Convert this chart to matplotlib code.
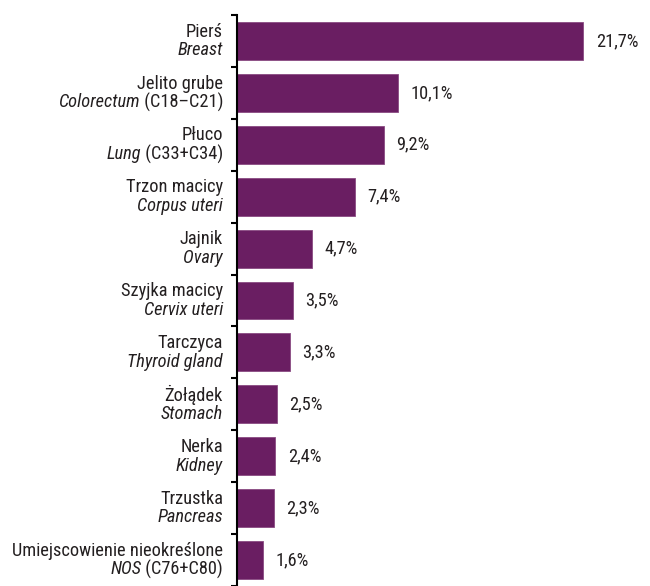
import numpy as np
import matplotlib.pyplot as plt

# dane
polish = ['Pierś', 'Jelito grube', 'Płuco', 'Trzon macicy', 'Jajnik', 'Szyjka macicy',
          'Tarczyca', 'Żołądek', 'Nerka', 'Trzustka', 'Umiejscowienie nieokreślone']
english = ['Breast', 'Colorectum', 'Lung', 'Corpus uteri', 'Ovary', 'Cervix uteri',
           'Thyroid gland', 'Stomach', 'Kidney', 'Pancreas', 'NOS']
codes = ['', ' (C18–C21)', ' (C33+C34)', '', '', '', '', '', '', '', ' (C76+C80)']
values = [21.7, 10.1, 9.2, 7.4, 4.7, 3.5, 3.3, 2.5, 2.4, 2.3, 1.6]

plt.rcParams['font.family'] = ['Roboto Condensed', 'DejaVu Sans']
color = '#6a1e62'
fs = 13.2

fig = plt.figure(figsize=(6.5, 5.86), dpi=100)
ax = fig.add_axes([237 / 650, 0, 1 - 237 / 650, 1 - 15 / 586])
y = np.arange(len(values))
ax.barh(y, values, height=0.73, color=color, edgecolor='#8a4a82', linewidth=0.6)
ax.set_ylim(len(values) - 0.5, -0.5)
ax.set_xlim(0, (650 - 237) / 15.94)

for s in ['top', 'right', 'bottom']:
    ax.spines[s].set_visible(False)
ax.spines['left'].set_linewidth(1.5)
ax.set_xticks([])
ax.set_yticks(np.arange(-0.5, len(values), 1))
ax.set_yticklabels([])
ax.tick_params(axis='y', length=4, width=1.5, direction='out')

for i, v in enumerate(values):
    ax.text(v + 0.8, i, f'{v:.1f}%'.replace('.', ','), va='center', ha='left',
            fontsize=fs, color='#231f20')

fig.canvas.draw()
renderer = fig.canvas.get_renderer()
trans = ax.get_yaxis_transform()
xoff = -14 / ax.bbox.width
dy = 0.18
for i in range(len(values)):
    ax.text(xoff, i - dy, polish[i], ha='right', va='center', fontsize=fs,
            color='#231f20', transform=trans)
    x_right = xoff
    if codes[i]:
        t = ax.text(x_right, i + dy, codes[i], ha='right', va='center', fontsize=fs,
                    color='#231f20', transform=trans)
        w = t.get_window_extent(renderer).width
        x_right -= w / ax.bbox.width
    ax.text(x_right, i + dy, english[i], ha='right', va='center', fontsize=fs,
            style='italic', color='#231f20', transform=trans)

fig.savefig('out.png', dpi=100)
